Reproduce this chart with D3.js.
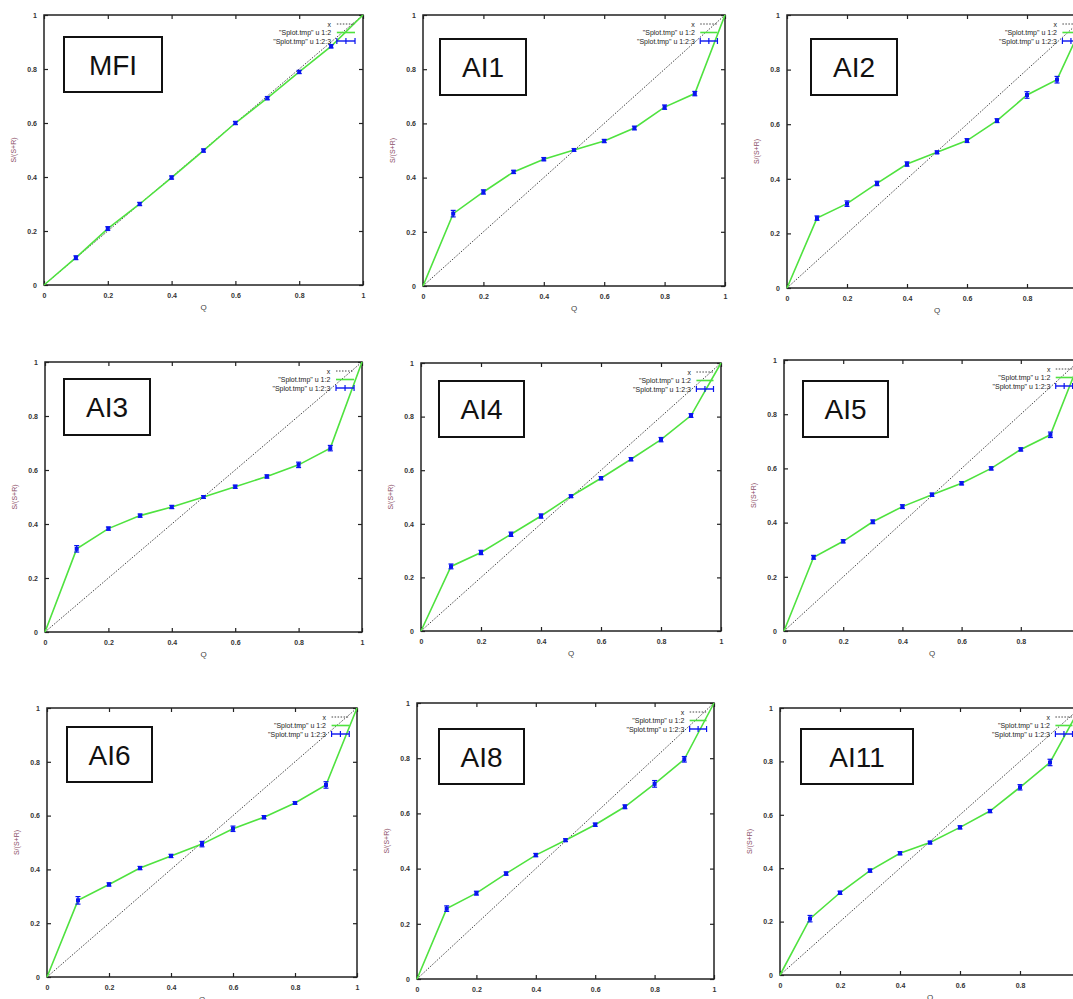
<!DOCTYPE html>
<html>
<head>
<meta charset="utf-8">
<script src="https://cdn.jsdelivr.net/npm/d3@7"></script>
<style>
  body { margin: 0; background: #fff; }
  svg { display: block; font-family: "Liberation Sans", Arial, sans-serif; }
  .tick text { font-size: 7px; font-weight: bold; fill: #333; }
</style>
</head>
<body>
<script>
'use strict';

// x values of the runs (Q), the ends 0 and 1 are fixed points of the curve
const qValues = [0, 0.1, 0.2, 0.3, 0.4, 0.5, 0.6, 0.7, 0.8, 0.9, 1];
const tickValues = [0, 0.2, 0.4, 0.6, 0.8, 1];
const tickLabels = ["0", "0.2", "0.4", "0.6", "0.8", "1"];
const panelNames = ["MFI", "AI1", "AI2", "AI3", "AI4", "AI5", "AI6", "AI8", "AI11"];
const legendLabels = ["x", "\"Splot.tmp\" u 1:2", "\"Splot.tmp\" u 1:2:3"];

// S/(S+R) per structure, with error bar half widths
const mfiY   = [0, 0.101, 0.209, 0.300, 0.398, 0.498, 0.600, 0.692, 0.789, 0.884, 1];
const mfiErr = [0, 0.007, 0.007, 0.006, 0.006, 0.006, 0.006, 0.006, 0.006, 0.006, 0];
const ai1Y   = [0, 0.267, 0.347, 0.421, 0.468, 0.502, 0.535, 0.583, 0.660, 0.710, 1];
const ai1Err = [0, 0.012, 0.008, 0.006, 0.006, 0.005, 0.006, 0.007, 0.008, 0.008, 0];
const ai2Y   = [0, 0.256, 0.309, 0.383, 0.454, 0.497, 0.540, 0.613, 0.707, 0.763, 1];
const ai2Err = [0, 0.008, 0.010, 0.008, 0.008, 0.005, 0.007, 0.007, 0.012, 0.012, 0];
const ai3Y   = [0, 0.308, 0.383, 0.431, 0.463, 0.500, 0.538, 0.576, 0.619, 0.681, 1];
const ai3Err = [0, 0.012, 0.006, 0.006, 0.006, 0.005, 0.006, 0.006, 0.010, 0.010, 0];
const ai4Y   = [0, 0.241, 0.293, 0.361, 0.429, 0.503, 0.570, 0.641, 0.714, 0.804, 1];
const ai4Err = [0, 0.009, 0.008, 0.008, 0.008, 0.005, 0.006, 0.006, 0.008, 0.007, 0];
const ai5Y   = [0, 0.272, 0.331, 0.403, 0.459, 0.503, 0.545, 0.600, 0.670, 0.724, 1];
const ai5Err = [0, 0.007, 0.006, 0.007, 0.007, 0.006, 0.006, 0.006, 0.006, 0.010, 0];
const ai6Y   = [0, 0.285, 0.344, 0.405, 0.450, 0.494, 0.551, 0.594, 0.647, 0.714, 1];
const ai6Err = [0, 0.014, 0.006, 0.006, 0.006, 0.010, 0.010, 0.006, 0.005, 0.012, 0];
const ai8Y   = [0, 0.255, 0.311, 0.382, 0.449, 0.503, 0.559, 0.624, 0.707, 0.796, 1];
const ai8Err = [0, 0.010, 0.007, 0.006, 0.006, 0.005, 0.006, 0.007, 0.012, 0.010, 0];
const ai11Y  = [0, 0.211, 0.308, 0.391, 0.456, 0.496, 0.553, 0.614, 0.703, 0.796, 1];
const ai11Err= [0, 0.012, 0.006, 0.006, 0.006, 0.005, 0.006, 0.006, 0.010, 0.012, 0];

const seriesY = [mfiY, ai1Y, ai2Y, ai3Y, ai4Y, ai5Y, ai6Y, ai8Y, ai11Y];
const seriesErr = [mfiErr, ai1Err, ai2Err, ai3Err, ai4Err, ai5Err, ai6Err, ai8Err, ai11Err];

// plot frames [left, right, top, bottom] and name boxes [x0, x1, y0, y1]
const frames = [
  [44, 363, 15, 285], [423, 725, 15, 286], [787, 1087, 15, 288],
  [45, 362, 362, 632], [421, 721, 363, 631], [784, 1080, 360, 631],
  [47, 357, 708, 977], [417, 714, 703, 979], [780, 1080, 708, 975]
];
const nameBoxes = [
  [64, 162, 37, 92], [440, 526, 39, 95], [811, 897, 39, 95],
  [64, 150, 379, 435], [439, 524, 381, 437], [803, 888, 381, 437],
  [67, 152, 727, 782], [439, 524, 729, 784], [801, 913, 729, 784]
];

const green = "#4fe23f";
const blue = "#0a14f0";

const svg = d3.select("body").append("svg")
  .attr("width", 1073)
  .attr("height", 999);
svg.append("rect").attr("width", 1073).attr("height", 999).attr("fill", "#fff");

for (let p = 0; p < panelNames.length; p++) {
  drawPanel(p);
}

function drawPanel(p) {
  let f = frames[p];
  let g = svg.append("g");
  let x = d3.scaleLinear().domain([0, 1]).range([f[0], f[1]]);
  let y = d3.scaleLinear().domain([0, 1]).range([f[3], f[2]]);
  let fmt = (d) => tickLabels[tickValues.indexOf(d)];

  // axes, ticks pointing inwards like gnuplot
  g.append("g").attr("transform", "translate(0," + f[3] + ")")
    .call(d3.axisBottom(x).tickValues(tickValues).tickFormat(fmt).tickSize(-4).tickPadding(8));
  g.append("g").attr("transform", "translate(" + f[0] + ",0)")
    .call(d3.axisLeft(y).tickValues(tickValues).tickFormat(fmt).tickSize(-4).tickPadding(7));
  g.append("g").attr("transform", "translate(0," + f[2] + ")")
    .call(d3.axisTop(x).tickValues(tickValues).tickFormat("").tickSize(-4));
  g.append("g").attr("transform", "translate(" + f[1] + ",0)")
    .call(d3.axisRight(y).tickValues(tickValues).tickFormat("").tickSize(-4));
  g.selectAll(".domain").remove();
  g.selectAll(".tick line").attr("stroke", "#222").attr("stroke-width", 1.2);

  g.append("rect")
    .attr("x", f[0]).attr("y", f[2])
    .attr("width", f[1] - f[0]).attr("height", f[3] - f[2])
    .attr("fill", "none").attr("stroke", "#222").attr("stroke-width", 1.5);

  // axis titles
  g.append("text")
    .attr("x", (f[0] + f[1]) / 2).attr("y", f[3] + 25)
    .attr("text-anchor", "middle")
    .style("font-size", "8px").attr("fill", "#444")
    .text("Q");
  g.append("text")
    .attr("transform", "translate(" + (f[0] - 28) + "," + ((f[2] + f[3]) / 2) + ")rotate(-90)")
    .attr("text-anchor", "middle")
    .style("font-size", "7px").attr("fill", "#8a4d66")
    .text("S/(S+R)");

  let yv = seriesY[p];
  let ev = seriesErr[p];

  // diagonal y = x
  g.append("path")
    .attr("d", d3.line().x((d) => x(d)).y((d) => y(d))([0, 1]))
    .attr("fill", "none").attr("stroke", "#444")
    .attr("stroke-width", 1).attr("stroke-dasharray", "1.5,1.5");

  // measured curve
  g.append("path")
    .attr("d", d3.line().x((d, i) => x(qValues[i])).y((d) => y(d))(yv))
    .attr("fill", "none").attr("stroke", green).attr("stroke-width", 1.6);

  // error bars with points
  for (let i = 0; i < qValues.length; i++) {
    if (ev[i] <= 0) continue;
    let cx = x(qValues[i]);
    let top = y(yv[i] + ev[i]);
    let bot = y(yv[i] - ev[i]);
    g.append("line").attr("x1", cx).attr("x2", cx).attr("y1", top).attr("y2", bot)
      .attr("stroke", blue).attr("stroke-width", 1.4);
    g.append("line").attr("x1", cx - 2.5).attr("x2", cx + 2.5).attr("y1", top).attr("y2", top)
      .attr("stroke", blue).attr("stroke-width", 1.2);
    g.append("line").attr("x1", cx - 2.5).attr("x2", cx + 2.5).attr("y1", bot).attr("y2", bot)
      .attr("stroke", blue).attr("stroke-width", 1.2);
    g.append("rect").attr("x", cx - 2).attr("y", y(yv[i]) - 2)
      .attr("width", 4).attr("height", 4).attr("fill", blue);
  }

  // key in the upper right corner
  let w = f[1] - f[0];
  let tx = f[0] + 0.9 * w;
  let s0 = f[0] + 0.918 * w;
  let s1 = f[0] + 0.975 * w;
  for (let k = 0; k < legendLabels.length; k++) {
    let ly = f[2] + 9 + k * 8.5;
    g.append("text")
      .attr("x", tx).attr("y", ly + 2.5)
      .attr("text-anchor", "end")
      .style("font-size", "7px").attr("fill", "#222")
      .text(legendLabels[k]);
    let ln = g.append("line").attr("x1", s0).attr("x2", s1).attr("y1", ly).attr("y2", ly);
    if (k === 0) {
      ln.attr("stroke", "#444").attr("stroke-width", 1).attr("stroke-dasharray", "1.5,1.5");
    } else if (k === 1) {
      ln.attr("stroke", green).attr("stroke-width", 1.6);
    } else {
      ln.attr("stroke", blue).attr("stroke-width", 1.4);
      [s0, (s0 + s1) / 2, s1].forEach((sx) => {
        g.append("line").attr("x1", sx).attr("x2", sx).attr("y1", ly - 3).attr("y2", ly + 3)
          .attr("stroke", blue).attr("stroke-width", 1.2);
      });
    }
  }

  // structure name box
  let b = nameBoxes[p];
  g.append("rect")
    .attr("x", b[0]).attr("y", b[2])
    .attr("width", b[1] - b[0]).attr("height", b[3] - b[2])
    .attr("fill", "#fff").attr("stroke", "#111").attr("stroke-width", 2);
  g.append("text")
    .attr("x", (b[0] + b[1]) / 2).attr("y", (b[2] + b[3]) / 2 + 10)
    .attr("text-anchor", "middle")
    .style("font-size", "28px").attr("fill", "#111")
    .text(panelNames[p]);
}
</script>
</body>
</html>
